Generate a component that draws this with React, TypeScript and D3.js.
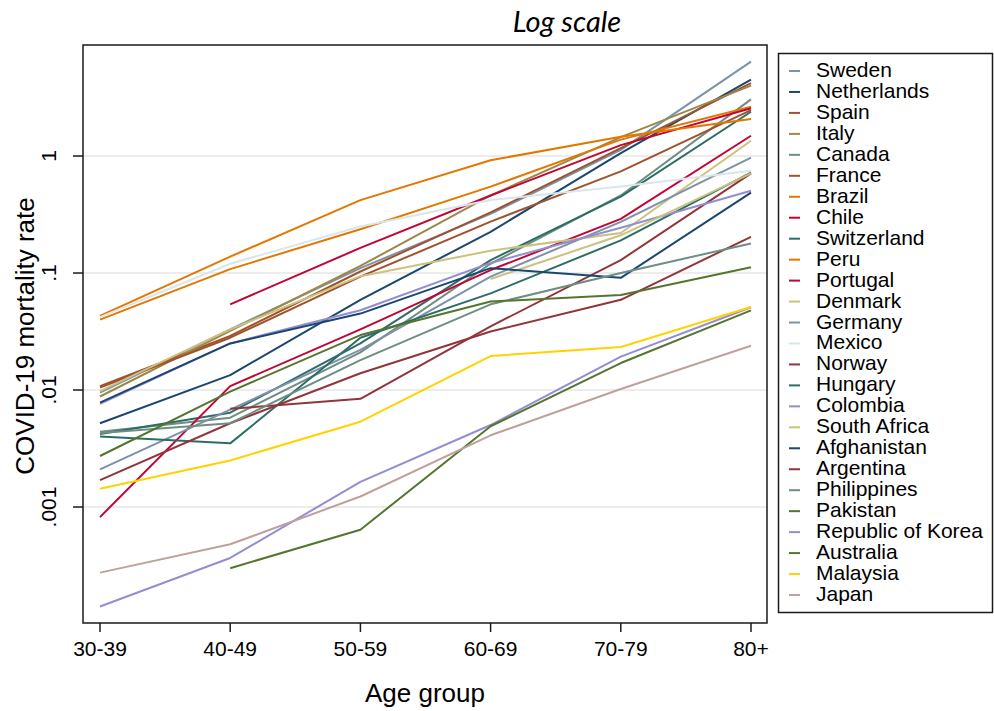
import React from "react";
import * as d3 from "d3";

const ageGroups = ["30-39", "40-49", "50-59", "60-69", "70-79", "80+"];
const countries = [
  "Sweden", "Netherlands", "Spain", "Italy", "Canada", "France", "Brazil", "Chile",
  "Switzerland", "Peru", "Portugal", "Denmark", "Germany", "Mexico", "Norway", "Hungary",
  "Colombia", "South Africa", "Afghanistan", "Argentina", "Philippines", "Pakistan",
  "Republic of Korea", "Australia", "Malaysia", "Japan",
];
const colors = [
  "#7b92a8", "#1a476f", "#a0522d", "#9c8847", "#6e8e84", "#a0522d", "#e37700", "#c10534",
  "#2d6d66", "#e37700", "#c10534", "#cac27e", "#7b92a8", "#d9e6eb", "#90353b", "#2d6d66",
  "#938dd2", "#cac27e", "#1a476f", "#90353b", "#6e8e84", "#55752f",
  "#938dd2", "#55752f", "#ffd200", "#bfa19c",
];

const N = null;
const sweden = [0.0095, 0.033, 0.11, 0.32, 1.13, 6.4];
const netherlands = [0.0052, 0.0134, 0.059, 0.225, 1.06, 4.5];
const spain = [0.0108, 0.029, 0.103, 0.33, 1.17, 4.2];
const italy = [0.0088, 0.032, 0.115, 0.46, 1.45, 4.0];
const canada = [0.0044, 0.0058, 0.021, 0.12, 0.46, 3.05];
const france = [0.0105, 0.028, 0.093, 0.275, 0.74, 2.47];
const brazil = [0.040, 0.108, 0.237, 0.547, 1.38, 2.64];
const chile = [N, 0.054, 0.164, 0.46, 1.24, 2.56];
const switzerland = [0.0042, 0.0064, 0.025, 0.129, 0.45, 2.39];
const peru = [0.043, 0.138, 0.42, 0.92, 1.46, 2.07];
const portugal = [0.00082, 0.0108, 0.033, 0.106, 0.29, 1.49];
const denmark = [0.0098, 0.033, 0.094, 0.155, 0.22, 1.35];
const germany = [0.0021, 0.0068, 0.022, 0.093, 0.274, 0.97];
const mexico = [0.042, 0.12, 0.25, 0.42, 0.55, 0.75];
const norway = [N, 0.0069, 0.0084, 0.035, 0.129, 0.71];
const hungary = [0.0040, 0.0035, 0.028, 0.067, 0.19, 0.72];
const colombia = [0.0076, 0.025, 0.048, 0.122, 0.244, 0.505];
const southAfrica = [N, N, N, 0.089, 0.21, 0.71];
const afghanistan = [0.0078, 0.025, 0.045, 0.110, 0.091, 0.486];
const argentina = [0.0017, 0.0052, 0.0139, 0.0316, 0.059, 0.204];
const philippines = [0.0043, 0.0052, 0.018, 0.054, 0.10, 0.179];
const pakistan = [0.00273, 0.0097, 0.0295, 0.057, 0.065, 0.112];
const korea = [0.000141, 0.000367, 0.00164, 0.00502, 0.0193, 0.051];
const australia = [N, 0.0003, 0.00064, 0.0049, 0.017, 0.048];
const malaysia = [0.00143, 0.0025, 0.00536, 0.0195, 0.0233, 0.0513];
const japan = [0.000275, 0.00048, 0.00123, 0.0041, 0.0102, 0.0239];

const seriesValues = [
  sweden, netherlands, spain, italy, canada, france, brazil, chile, switzerland, peru,
  portugal, denmark, germany, mexico, norway, hungary, colombia, southAfrica, afghanistan,
  argentina, philippines, pakistan, korea, australia, malaysia, japan,
];

const yTicks = [0.001, 0.01, 0.1, 1];
const yTickLabels = [".001", ".01", ".1", "1"];

const W = 994;
const H = 711;
const plot = { left: 83, right: 767, top: 45, bottom: 623 };
const font = "'Liberation Sans', Arial, sans-serif";

export default function App() {
  const x = d3.scalePoint<string>().domain(ageGroups).range([100, 751]);
  const y = d3.scaleLog().domain([1.02e-4, 8.89]).range([plot.bottom, plot.top]);
  const line = d3
    .line<number | null>()
    .defined((d) => d != null)
    .x((_, i) => x(ageGroups[i]) as number)
    .y((d) => y(d as number));

  const legendX = 778.5;
  const legendY = 53.5;
  const legendStep = 20.96;

  return (
    <svg
      width={W}
      height={H}
      style={{ position: "absolute", left: 0, top: 0, background: "#fff" }}
      fontFamily={font}
    >
      <rect x={0} y={0} width={W} height={H} fill="#fff" />
      {yTicks.map((t) => (
        <line
          key={"g" + t}
          x1={plot.left}
          x2={plot.right}
          y1={y(t)}
          y2={y(t)}
          stroke="#e6e6e6"
          strokeWidth={1.6}
        />
      ))}
      <g fill="none" strokeWidth={2} strokeLinejoin="round">
        {seriesValues.map((vals, i) => (
          <path key={countries[i]} d={line(vals) || ""} stroke={colors[i]} />
        ))}
      </g>
      <rect
        x={plot.left}
        y={plot.top}
        width={plot.right - plot.left}
        height={plot.bottom - plot.top}
        fill="none"
        stroke="#1a1a1a"
        strokeWidth={1.5}
      />
      {yTicks.map((t, i) => (
        <g key={"yt" + t}>
          <line x1={plot.left - 10} x2={plot.left} y1={y(t)} y2={y(t)} stroke="#1a1a1a" strokeWidth={1.5} />
          <text
            transform={`translate(56,${y(t)}) rotate(-90)`}
            textAnchor="middle"
            fontSize={21}
            fill="#000"
          >
            {yTickLabels[i]}
          </text>
        </g>
      ))}
      {ageGroups.map((g) => (
        <g key={"xt" + g}>
          <line x1={x(g)} x2={x(g)} y1={plot.bottom} y2={plot.bottom + 9} stroke="#1a1a1a" strokeWidth={1.5} />
          <text x={x(g)} y={656} textAnchor="middle" fontSize={21} fill="#000">
            {g}
          </text>
        </g>
      ))}
      <text x={425} y={702} textAnchor="middle" fontSize={26} fill="#000">
        Age group
      </text>
      <text transform={`translate(34,336) rotate(-90)`} textAnchor="middle" fontSize={26} fill="#000">
        COVID-19 mortality rate
      </text>
      <text
        x={567}
        y={32}
        textAnchor="middle"
        fontSize={29}
        fontStyle="italic"
        fontFamily="Lato, 'Open Sans', sans-serif"
        fill="#000"
      >
        Log scale
      </text>
      <rect x={legendX} y={legendY} width={214} height={559} fill="#fff" stroke="#1a1a1a" strokeWidth={1.5} />
      {countries.map((c, i) => {
        const cy = 69.5 + i * legendStep;
        return (
          <g key={"lg" + c}>
            <line x1={789} x2={800} y1={cy + 1.5} y2={cy + 1.5} stroke={colors[i]} strokeWidth={2} />
            <text x={816} y={cy + 7.5} fontSize={21} fill="#000">
              {c}
            </text>
          </g>
        );
      })}
    </svg>
  );
}
